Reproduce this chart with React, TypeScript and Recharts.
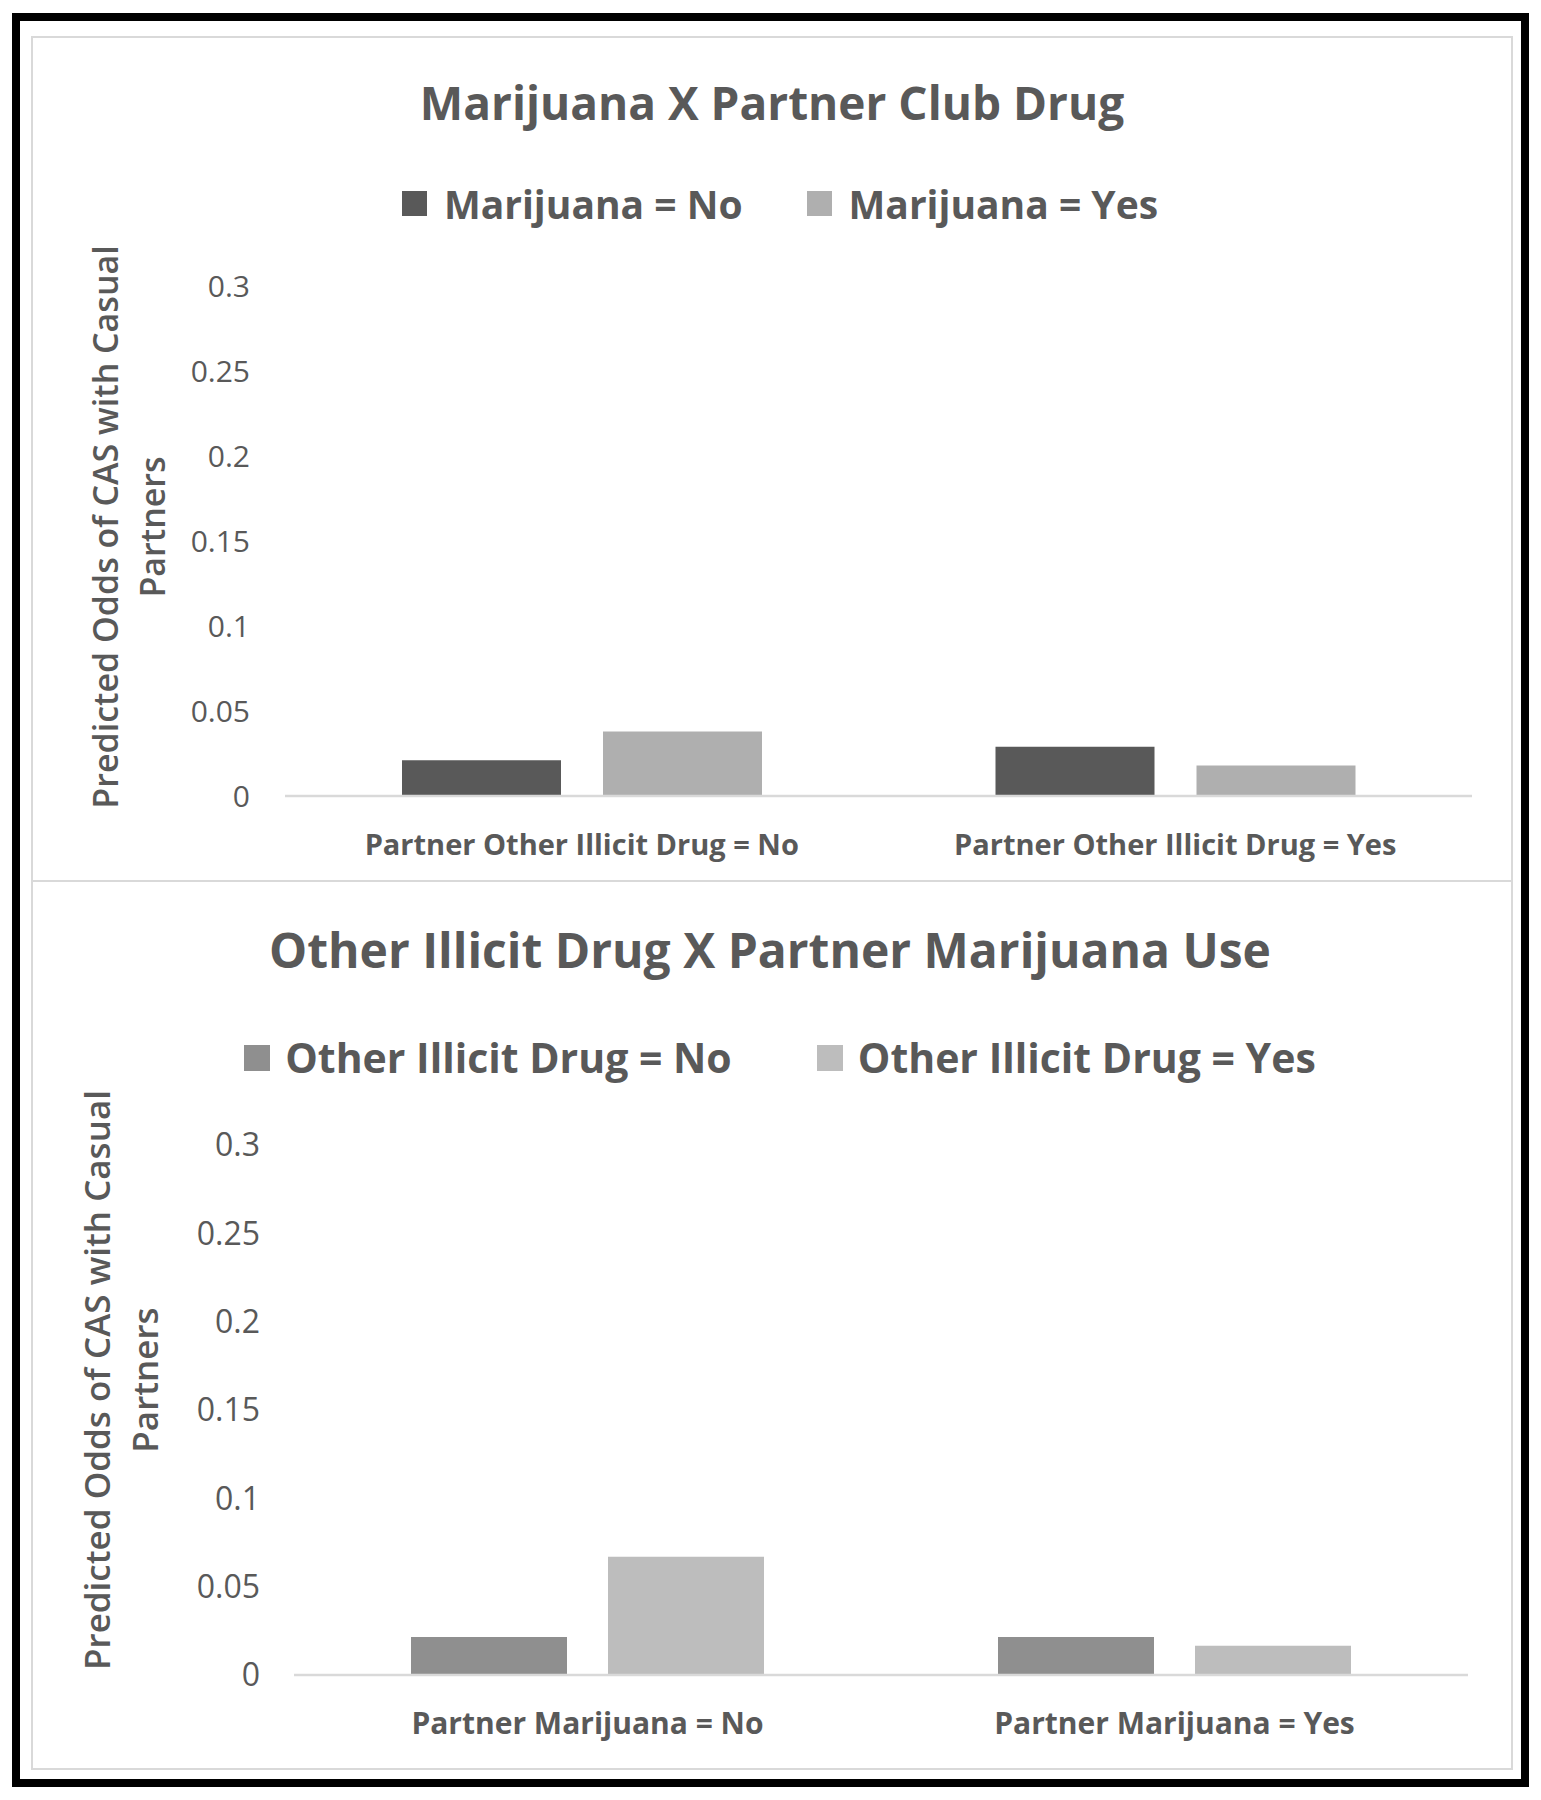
import React from "react";
import { BarChart, Bar, XAxis, YAxis, Label } from "recharts";

const FONT = '"Open Sans", "DejaVu Sans", sans-serif';
const TEXT = "#595959";

// ---------- data ----------
const yTicks = [0, 0.05, 0.1, 0.15, 0.2, 0.25, 0.3];
const yAxisLines = ["Predicted Odds of CAS with Casual", "Partners"];

const topTitle = "Marijuana X Partner Club Drug";
const topCategories = ["Partner Other Illicit Drug = No", "Partner Other Illicit Drug = Yes"];
const topSeriesNames = ["Marijuana = No", "Marijuana = Yes"];
const topNoValues = [0.021, 0.029];
const topYesValues = [0.038, 0.018];
const topColors = ["#595959", "#AFAFAF"];

const bottomTitle = "Other Illicit Drug X Partner Marijuana Use";
const bottomCategories = ["Partner Marijuana = No", "Partner Marijuana = Yes"];
const bottomSeriesNames = ["Other Illicit Drug = No", "Other Illicit Drug = Yes"];
const bottomNoValues = [0.0215, 0.0215];
const bottomYesValues = [0.067, 0.0165];
const bottomColors = ["#8F8F8F", "#BDBDBD"];

type Cfg = {
  title: string;
  categories: string[];
  names: string[];
  noValues: number[];
  yesValues: number[];
  colors: string[];
  top: number;
  height: number;
  margin: { top: number; right: number; bottom: number; left: number };
  yAxisWidth: number;
  yTickMargin: number;
  yTickFont: number;
  xTickFont: number;
  xTickMargin: number;
  barSize: number;
  barGap: number;
  titleFont: number;
  titleTop: number;
  titleCenter: number;
  legendFont: number;
  legendTop: number;
  legendCenter: number;
  legendMarker: number;
  legendGap: number;
  legendInnerGap: number;
  yLabelFont: number;
  yLabelX1: number;
  yLabelX2: number;
  yLabelShift: number;
};

const topCfg: Cfg = {
  title: topTitle,
  categories: topCategories,
  names: topSeriesNames,
  noValues: topNoValues,
  yesValues: topYesValues,
  colors: topColors,
  top: 37,
  height: 845,
  margin: { top: 249, right: 69, bottom: 36, left: 60 },
  yAxisWidth: 225,
  yTickMargin: 35,
  yTickFont: 30,
  xTickFont: 29,
  xTickMargin: 38,
  barSize: 159,
  barGap: 42,
  titleFont: 46,
  titleTop: 79,
  titleCenter: 772,
  legendFont: 39,
  legendTop: 184,
  legendCenter: 780,
  legendMarker: 25,
  legendGap: 64,
  legendInnerGap: 17,
  yLabelFont: 34,
  yLabelX1: 106,
  yLabelX2: 153,
  yLabelShift: -14,
};

const bottomCfg: Cfg = {
  title: bottomTitle,
  categories: bottomCategories,
  names: bottomSeriesNames,
  noValues: bottomNoValues,
  yesValues: bottomYesValues,
  colors: bottomColors,
  top: 882,
  height: 888,
  margin: { top: 263, right: 73, bottom: 45, left: 60 },
  yAxisWidth: 234,
  yTickMargin: 34,
  yTickFont: 32,
  xTickFont: 30,
  xTickMargin: 38,
  barSize: 156,
  barGap: 41,
  titleFont: 48,
  titleTop: 926,
  titleCenter: 770,
  legendFont: 41,
  legendTop: 1037,
  legendCenter: 780,
  legendMarker: 26,
  legendGap: 85,
  legendInnerGap: 15,
  yLabelFont: 35,
  yLabelX1: 98,
  yLabelX2: 146,
  yLabelShift: -30,
};

function Panel({ cfg }: { cfg: Cfg }) {
  const data = cfg.categories.map((c, i) => ({
    category: c,
    no: cfg.noValues[i],
    yes: cfg.yesValues[i],
  }));

  const yTick = (p: any) => (
    <text
      x={p.x}
      y={p.y}
      dy="0.355em"
      textAnchor="end"
      fill={TEXT}
      fontSize={cfg.yTickFont}
      fontFamily={FONT}
    >
      {String(p.payload.value)}
    </text>
  );

  const xTick = (p: any) => (
    <text
      x={p.x}
      y={p.y}
      dy="0.71em"
      textAnchor="middle"
      fill={TEXT}
      fontSize={cfg.xTickFont}
      fontWeight={700}
      fontFamily={FONT}
    >
      {p.payload.value}
    </text>
  );

  const yLabel = (props: any) => {
    const vb = props && props.viewBox;
    const cy =
      vb && typeof vb.y === "number"
        ? vb.y + vb.height / 2 + cfg.yLabelShift
        : cfg.margin.top + 255 + cfg.yLabelShift;
    const xs = [cfg.yLabelX1, cfg.yLabelX2];
    return (
      <g>
        {yAxisLines.map((line, i) => (
          <text
            key={i}
            x={xs[i]}
            y={cy}
            dy="0.35em"
            textAnchor="middle"
            transform={`rotate(-90 ${xs[i]} ${cy})`}
            fill={TEXT}
            fontSize={cfg.yLabelFont}
            fontWeight={600}
            fontFamily={FONT}
          >
            {line}
          </text>
        ))}
      </g>
    );
  };

  return (
    <>
      <div
        style={{
          position: "absolute",
          left: 0,
          top: cfg.top,
          width: 1541,
          height: cfg.height,
        }}
      >
        <BarChart
          width={1541}
          height={cfg.height}
          data={data}
          margin={cfg.margin}
          barGap={cfg.barGap}
        >
          <XAxis
            dataKey="category"
            height={50}
            tickSize={0}
            tickMargin={cfg.xTickMargin}
            tickLine={false}
            axisLine={{ stroke: "#D9D9D9", strokeWidth: 2.5 }}
            tick={xTick}
            interval={0}
          />
          <YAxis
            width={cfg.yAxisWidth}
            domain={[0, 0.3]}
            ticks={yTicks}
            interval={0}
            tickSize={0}
            tickMargin={cfg.yTickMargin}
            tickLine={false}
            axisLine={false}
            tick={yTick}
          >
            <Label content={yLabel} />
          </YAxis>
          <Bar
            dataKey="no"
            name={cfg.names[0]}
            fill={cfg.colors[0]}
            barSize={cfg.barSize}
            isAnimationActive={false}
          />
          <Bar
            dataKey="yes"
            name={cfg.names[1]}
            fill={cfg.colors[1]}
            barSize={cfg.barSize}
            isAnimationActive={false}
          />
        </BarChart>
      </div>
      <div
        style={{
          position: "absolute",
          left: cfg.titleCenter - 700,
          width: 1400,
          top: cfg.titleTop,
          textAlign: "center",
          fontFamily: FONT,
          fontWeight: 700,
          fontSize: cfg.titleFont,
          lineHeight: `${cfg.titleFont}px`,
          color: TEXT,
          whiteSpace: "nowrap",
        }}
      >
        {cfg.title}
      </div>
      <div
        style={{
          position: "absolute",
          left: cfg.legendCenter - 700,
          width: 1400,
          top: cfg.legendTop,
          height: cfg.legendFont,
          display: "flex",
          justifyContent: "center",
          alignItems: "center",
          gap: cfg.legendGap,
          fontFamily: FONT,
          fontWeight: 700,
          fontSize: cfg.legendFont,
          lineHeight: `${cfg.legendFont}px`,
          color: TEXT,
          whiteSpace: "nowrap",
        }}
      >
        {cfg.names.map((n, i) => (
          <div
            key={n}
            style={{ display: "flex", alignItems: "center", gap: cfg.legendInnerGap }}
          >
            <div
              style={{
                width: cfg.legendMarker,
                height: cfg.legendMarker,
                background: cfg.colors[i],
              }}
            />
            <span>{n}</span>
          </div>
        ))}
      </div>
    </>
  );
}

export default function App() {
  return (
    <div
      style={{
        position: "absolute",
        left: 0,
        top: 0,
        width: 1541,
        height: 1800,
        background: "#FFFFFF",
        overflow: "hidden",
      }}
    >
      <div
        style={{
          position: "absolute",
          left: 12,
          top: 13,
          width: 1517,
          height: 1774,
          border: "8px solid #000000",
          boxSizing: "border-box",
        }}
      />
      <div
        style={{
          position: "absolute",
          left: 31,
          top: 36,
          width: 1482,
          height: 846,
          border: "2.5px solid #D9D9D9",
          boxSizing: "border-box",
        }}
      />
      <div
        style={{
          position: "absolute",
          left: 31,
          top: 880,
          width: 1482,
          height: 890,
          border: "2.5px solid #D9D9D9",
          boxSizing: "border-box",
        }}
      />
      <Panel cfg={topCfg} />
      <Panel cfg={bottomCfg} />
    </div>
  );
}
